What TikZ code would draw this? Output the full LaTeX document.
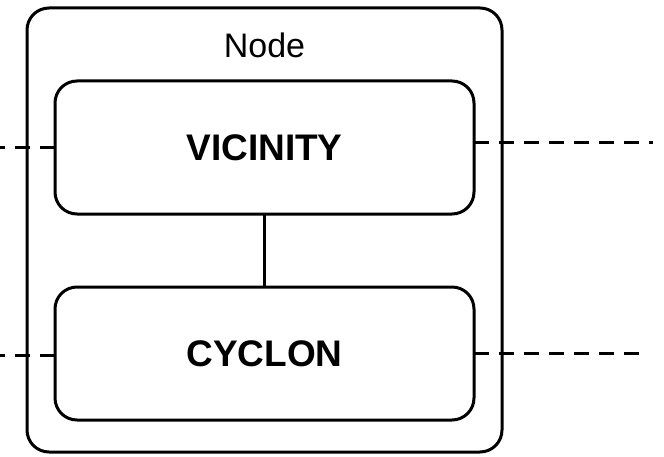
\documentclass[tikz,border=0pt]{standalone}
\usepackage{fontspec}
\setmainfont{Liberation Sans}
\usetikzlibrary{positioning}
\tikzset{
  nodebox/.style={
    rectangle,
    rounded corners=11pt,
    draw=black, line width=1.5pt,
    minimum width=237.5pt,
    minimum height=222pt,
    outer sep=0pt},
  layer/.style={
    rectangle,
    rounded corners=11pt,
    draw=black, line width=1.5pt,
    minimum width=209.5pt,
    minimum height=66.5pt,
    outer sep=0pt,
    font=\fontsize{18.5}{22}\selectfont\bfseries,
    text centered},
  link/.style={draw, line width=1.5pt},
  peer/.style={draw, line width=1.5pt, dash pattern=on 7.5pt off 5pt},
}

\begin{document}
\begin{tikzpicture}
\useasboundingbox (0,0) rectangle (332pt,228pt);
\node[nodebox] (node) at (132.25pt,113pt) {};
\node (title) at ([yshift=-18.5pt]node.north) {\fontsize{17}{20}\selectfont Node};
\node[layer] (vicinity) at (132.25pt,154.25pt) {VICINITY};
\node[layer, below=36.5pt of vicinity] (cyclon) {CYCLON};
% loose ends of the links to neighbouring nodes
\coordinate (vicL) at (0pt,154pt);
\coordinate (vicR) at (326.5pt,156.5pt);
\coordinate (cycL) at (0pt,50.5pt);
\coordinate (cycR) at (322.5pt,51.5pt);
\draw[link] (vicinity) -- (cyclon);
\draw[peer] (vicinity.west |- vicL) -- (vicL);
\draw[peer] (vicinity.east |- vicR) -- (vicR);
\draw[peer] (cyclon.west |- cycL) -- (cycL);
\draw[peer] (cyclon.east |- cycR) -- (cycR);
\end{tikzpicture}
\end{document}
